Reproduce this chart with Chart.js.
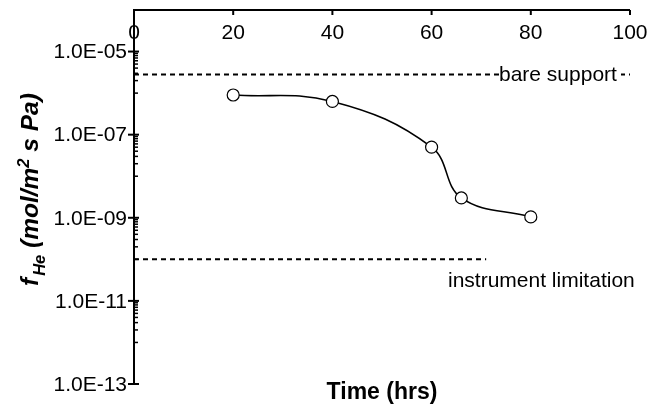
<!DOCTYPE html>
<html>
<head>
<meta charset="utf-8">
<script src="https://cdn.jsdelivr.net/npm/chart.js@4"></script>
<style>
  html, body { margin: 0; padding: 0; background: #fff; }
  #wrap { width: 650px; height: 416px; }
</style>
</head>
<body>
<div id="wrap"><canvas id="chart" width="650" height="416"></canvas></div>
<script>
// data
const hours = [20, 40, 60, 66, 80];
const flux = [9.0e-7, 6.3e-7, 5.0e-8, 3.0e-9, 1.05e-9];
const bareX = [0, 100];
const bareY = [2.8e-6, 2.8e-6];
const instX = [0, 71];
const instY = [1e-10, 1e-10];
const xTicks = [0, 20, 40, 60, 80, 100];
const yTicks = [1e-13, 1e-11, 1e-9, 1e-7, 1e-5];
const yTickLabels = ['1.0E-13', '1.0E-11', '1.0E-09', '1.0E-07', '1.0E-05'];

const FONT = '"Liberation Sans", Arial, Helvetica, sans-serif';

const pts = (xs, ys) => xs.map((x, i) => ({ x, y: ys[i] }));

// minor ticks: 1..9 x 10^k in the upper decade of each 2-decade interval
function minorTicks() {
  const out = [];
  for (let e = -12; e <= -4; e += 2) {
    for (let j = 1; j <= 9; j++) out.push(j * Math.pow(10, e));
  }
  return out;
}

const axesPlugin = {
  id: 'axes',
  afterDatasetsDraw(chart) {
    const { ctx, chartArea: a, scales: { x, y } } = chart;
    ctx.save();
    ctx.strokeStyle = '#000';
    ctx.fillStyle = '#000';
    ctx.lineWidth = 2;
    // axis lines: left and top
    ctx.beginPath();
    ctx.moveTo(a.left, a.bottom);
    ctx.lineTo(a.left, a.top);
    ctx.lineTo(a.right, a.top);
    ctx.stroke();

    // x ticks (inward) and labels below the top line
    ctx.font = '21px ' + FONT;
    ctx.textAlign = 'center';
    ctx.textBaseline = 'middle';
    xTicks.forEach((v) => {
      const px = x.getPixelForValue(v);
      ctx.beginPath();
      ctx.moveTo(px, a.top);
      ctx.lineTo(px, a.top + 5);
      ctx.stroke();
      ctx.fillText(String(v), px, a.top + 23);
    });

    // y major ticks + labels
    ctx.font = '21px ' + FONT;
    ctx.textAlign = 'right';
    yTicks.forEach((v, i) => {
      const py = y.getPixelForValue(v);
      ctx.beginPath();
      ctx.moveTo(a.left - 6, py);
      ctx.lineTo(a.left + 5, py);
      ctx.stroke();
      ctx.fillText(yTickLabels[i], a.left - 7, py + 1);
    });
    // y minor ticks (inward)
    ctx.lineWidth = 1.5;
    minorTicks().forEach((v) => {
      const py = y.getPixelForValue(v);
      if (py < a.top + 1) return;
      ctx.beginPath();
      ctx.moveTo(a.left, py);
      ctx.lineTo(a.left + 4, py);
      ctx.stroke();
    });

    // annotations
    ctx.font = '21px ' + FONT;
    ctx.textAlign = 'left';
    const by = y.getPixelForValue(bareY[0]);
    ctx.fillStyle = '#fff';
    ctx.fillRect(503, by - 4, 118, 8);
    ctx.fillStyle = '#000';
    ctx.fillText('bare support', 499, by + 1);
    const iy = y.getPixelForValue(instY[0]);
    ctx.fillText('instrument limitation', 448, iy + 22);

    // x title
    ctx.font = 'bold 23px ' + FONT;
    ctx.textAlign = 'center';
    ctx.textBaseline = 'alphabetic';
    ctx.fillText('Time (hrs)', (a.left + a.right) / 2, 399);

    // y title with sub/superscript
    ctx.translate(38, 286);
    ctx.rotate(-Math.PI / 2);
    ctx.textAlign = 'left';
    const main = 'italic bold 24.5px ' + FONT;
    const small = 'italic bold 16.5px ' + FONT;
    const parts = [['f', main, 0], ['He', small, 7], [' (mol/m', main, 0], ['2', small, -9], [' s Pa)', main, 0]];
    let cx = 0;
    parts.forEach(([t, f, dy]) => {
      ctx.font = f;
      ctx.fillText(t, cx, dy);
      cx += ctx.measureText(t).width + (t === 'f' ? 2 : 0);
    });
    ctx.restore();
  }
};

const dashed = {
  borderColor: '#000', borderWidth: 2, borderDash: [5, 4],
  pointRadius: 0, fill: false, tension: 0
};

new Chart(document.getElementById('chart'), {
  type: 'line',
  data: {
    datasets: [
      { ...dashed, data: pts(bareX, bareY) },
      { ...dashed, data: pts(instX, instY) },
      {
        data: pts(hours, flux),
        borderColor: '#000', borderWidth: 1.6,
        tension: 0.4,
        pointRadius: 6, pointBorderWidth: 1.2,
        pointBackgroundColor: '#fff', pointBorderColor: '#000',
        fill: false
      }
    ]
  },
  options: {
    responsive: false,
    animation: false,
    devicePixelRatio: 1,
    layout: { padding: { left: 134, right: 20, top: 10, bottom: 32 } },
    plugins: { legend: { display: false }, tooltip: { enabled: false } },
    scales: {
      x: { type: 'linear', min: 0, max: 100, display: false },
      y: { type: 'logarithmic', min: 1e-13, max: 1e-4, display: false }
    }
  },
  plugins: [axesPlugin]
});
</script>
</body>
</html>
